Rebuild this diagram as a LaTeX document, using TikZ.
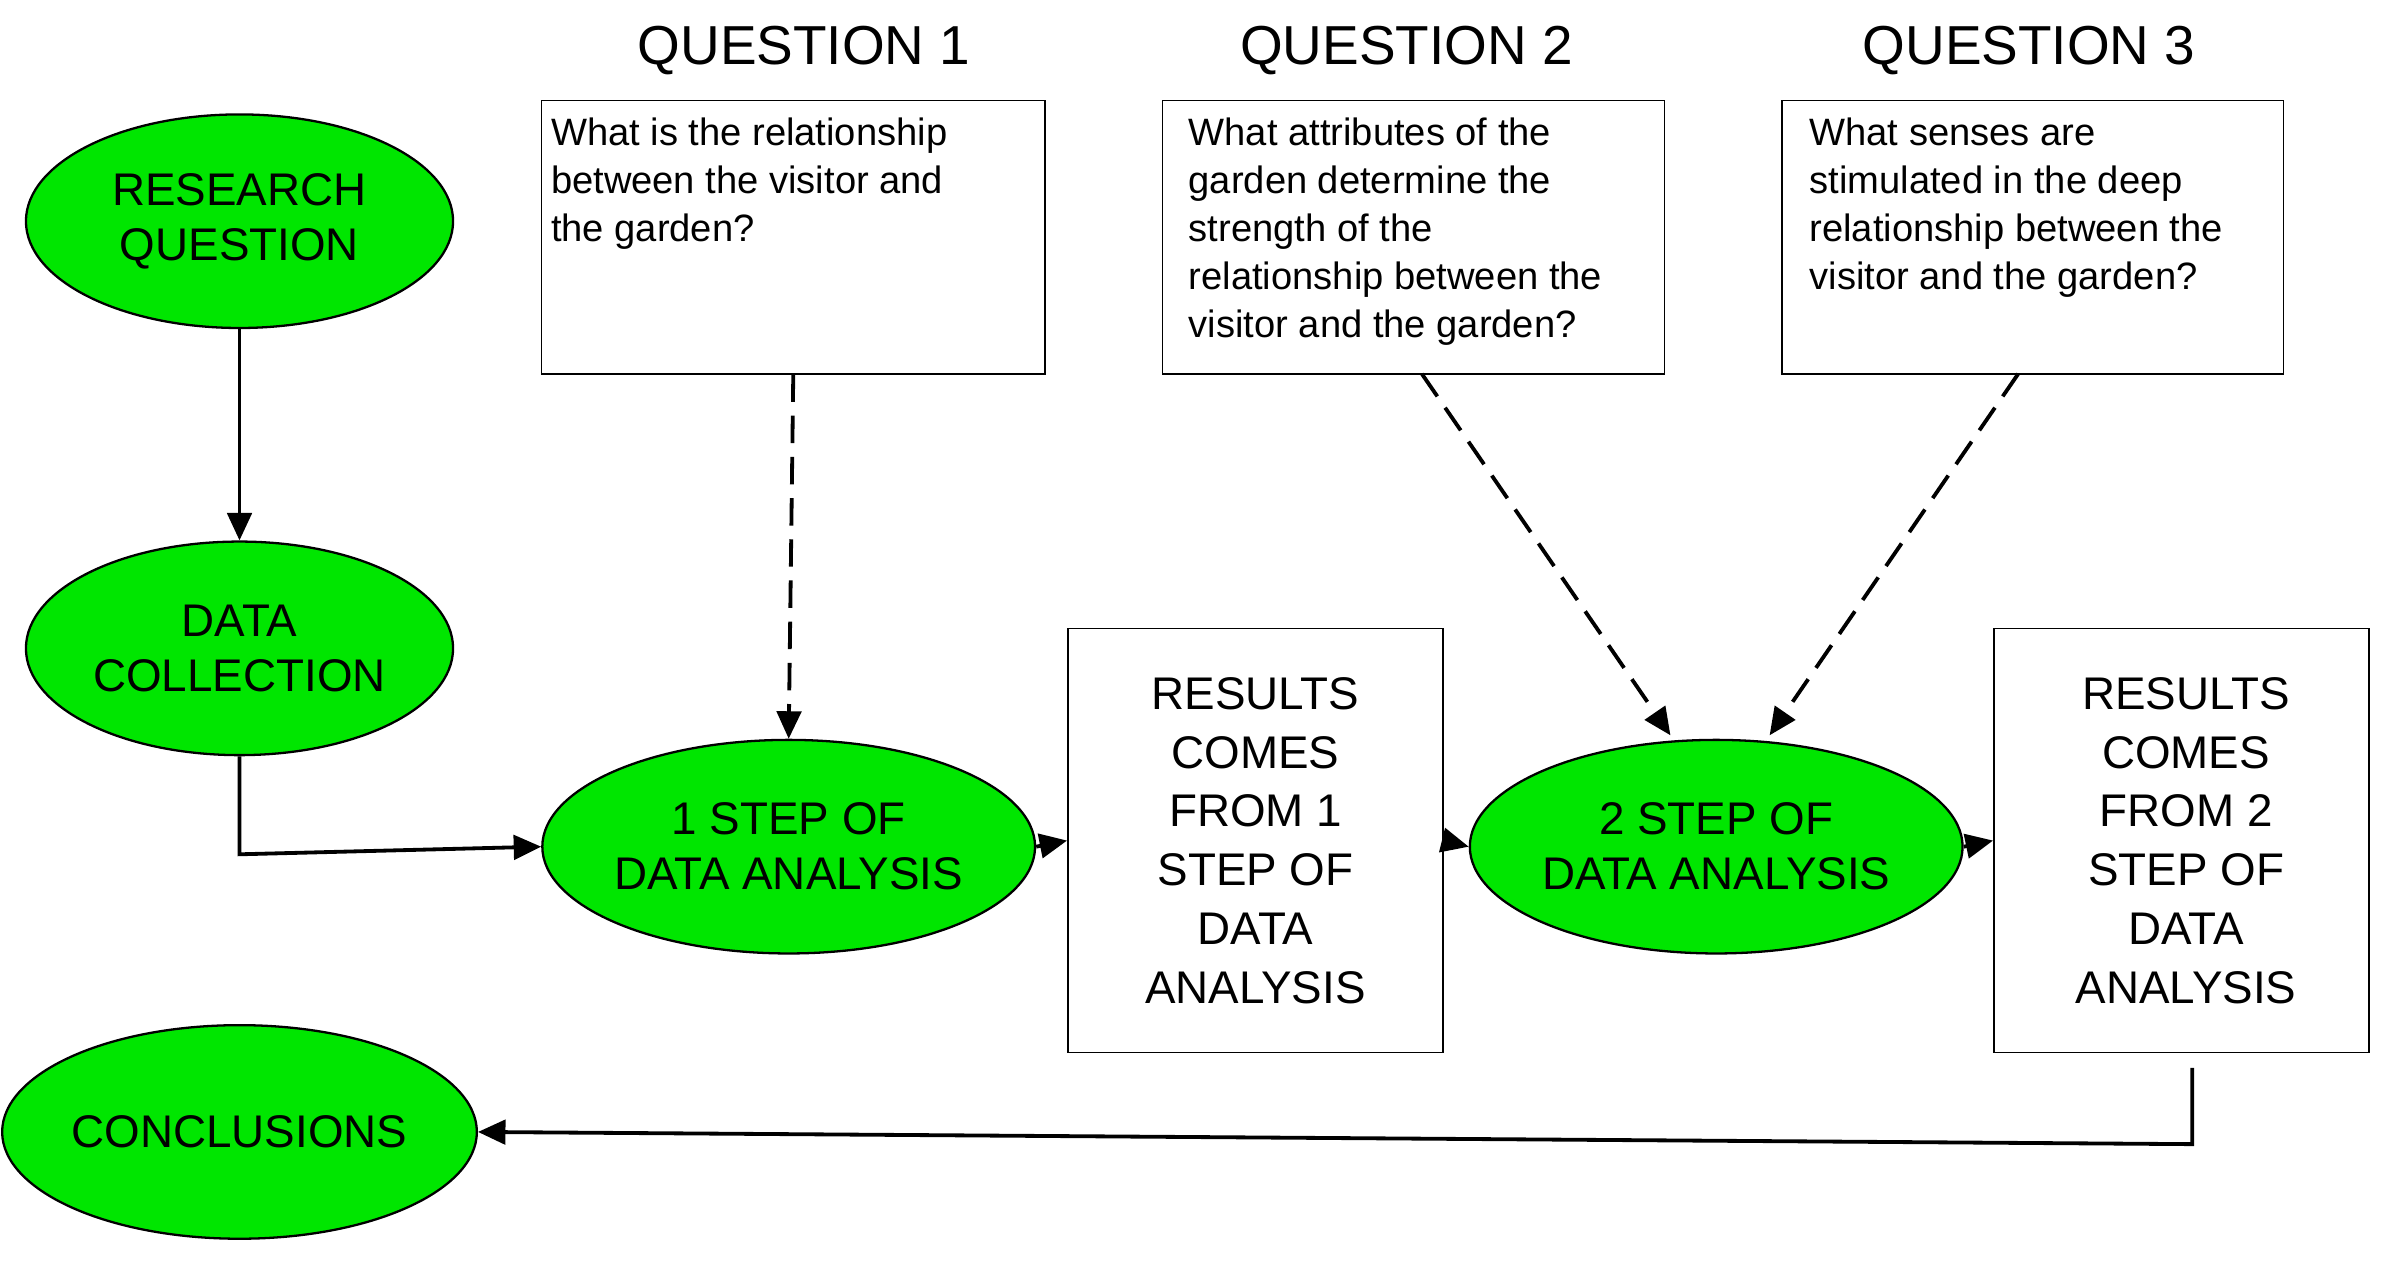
\documentclass[tikz,border=0pt]{standalone}
\usepackage{fontspec}
\setmainfont{Liberation Sans}
\usetikzlibrary{shapes.geometric,arrows.meta}
\begin{document}
\begin{tikzpicture}[x=1pt,y=-1pt,
  ell/.style={ellipse,draw=black,line width=1.5pt,fill=green!90!black!100,minimum width=280pt,minimum height=140pt,inner sep=0pt,align=center,font=\fontsize{30}{36}\selectfont},
  box/.style={draw=black,line width=1pt,rectangle,inner sep=0pt},
  qtxt/.style={anchor=north west,align=left,inner sep=0pt,font=\fontsize{25}{31.5}\selectfont},
  ttl/.style={font=\fontsize{36}{40}\selectfont},
  rtxt/.style={align=center,font=\fontsize{30}{38.5}\selectfont},
  arr/.style={line width=2.5pt,-{Triangle[length=18pt,width=16pt]}},
  darr/.style={line width=2.5pt,dash pattern=on 18pt off 9pt,-{Triangle[length=18pt,width=16pt]}}]
\useasboundingbox (0,0) rectangle (1568,830);
\definecolor{gr}{RGB}{0,230,0}
\tikzset{ell/.append style={fill=gr}}
\node[ell] (rq) at (157,145) {RESEARCH\\QUESTION};
\node[ell] (dc) at (157,425) {DATA\\COLLECTION};
\node[ell] (cc) at (157,742) {CONCLUSIONS};
\node[ell] (s1) at (517,555) {1 STEP OF\\DATA ANALYSIS};
\node[ell] (s2) at (1125,555) {2 STEP OF\\DATA ANALYSIS};
\node[ttl] (t1) at (527,33) {QUESTION 1};
\node[ttl] (t2) at (922,33) {QUESTION 2};
\node[ttl] (t3) at (1330,33) {QUESTION 3};
\node[box,minimum width=330pt,minimum height=179pt] (q1) at (520,155.5) {};
\node[box,minimum width=329pt,minimum height=179pt] (q2) at (926.5,155.5) {};
\node[box,minimum width=329pt,minimum height=179pt] (q3) at (1332.5,155.5) {};
\node[qtxt] (q1t) at (361,77) {What is the relationship\\between the visitor and\\the garden?};
\node[qtxt] (q2t) at (779,77) {What attributes of the\\garden determine the\\strength of the\\relationship between the\\visitor and the garden?};
\node[qtxt] (q3t) at (1186,77) {What senses are\\stimulated in the deep\\relationship between the\\visitor and the garden?};
\node[box,minimum width=246pt,minimum height=278pt] (r1) at (823,551) {};
\node[rtxt] (r1t) at (823,551) {RESULTS\\COMES\\FROM 1\\STEP OF\\DATA\\ANALYSIS};
\node[box,minimum width=246pt,minimum height=278pt] (r2) at (1430,551) {};
\node[rtxt] (r2t) at (1433,551) {RESULTS\\COMES\\FROM 2\\STEP OF\\DATA\\ANALYSIS};
\coordinate (c1) at (157,560);
\coordinate (c2) at (1437,700);
\coordinate (c3) at (1437,750);
\draw[arr] (rq.south) -- (dc.north);
\draw[arr] (dc.south) -- (c1) -- (s1.west);
\draw[arr] (s1.east) -- (r1.west);
\draw[arr] (r1.east) -- (s2.west);
\draw[arr] (s2.east) -- (r2.west);
\draw[arr] (c2) -- (c3) -- (cc.east);
\draw[darr] (q1.south) -- (s1.north);
\draw[darr] (932,245) -- (1095,482);
\draw[darr] (1323,245) -- (1160,482);
\end{tikzpicture}
\end{document}
